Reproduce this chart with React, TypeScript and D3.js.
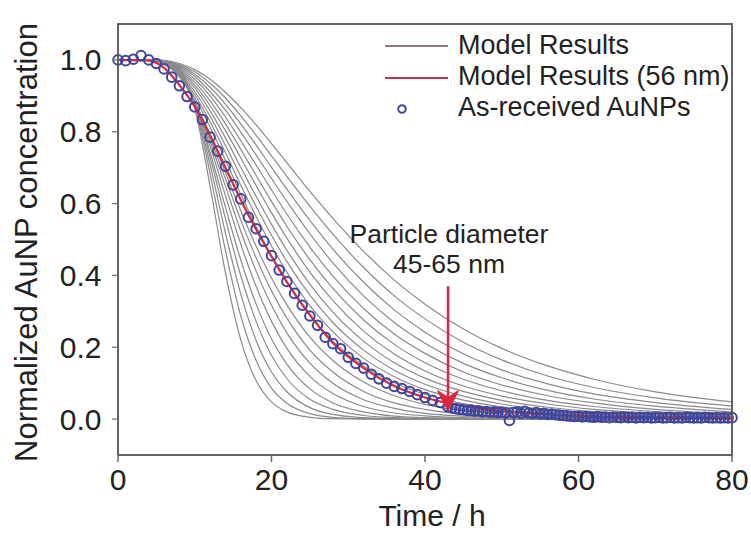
import React from 'react';
import * as d3 from 'd3';

// ---------- data ----------
const timeGrid = [0, 4, 6, 8, 10, 12, 14, 16, 18, 20, 22, 25, 28, 32, 36, 40, 45, 50, 56, 62, 70, 80];

// gray model curves, one per particle diameter (nm), values at timeGrid
const diameters = [65, 64, 63, 62, 61, 60, 59, 58, 57, 55, 54, 53, 52, 51, 50, 49, 48, 47, 46, 45];
const modelCurves = [
  [1, 1, 0.999, 0.977, 0.866, 0.648, 0.407, 0.220, 0.107, 0.048, 0.020, 0.005, 0.001, 0, 0, 0, 0, 0, 0, 0, 0, 0],
  [1, 1, 0.998, 0.974, 0.871, 0.683, 0.469, 0.287, 0.163, 0.086, 0.044, 0.015, 0.005, 0.001, 0, 0, 0, 0, 0, 0, 0, 0],
  [1, 1, 0.997, 0.970, 0.874, 0.708, 0.518, 0.348, 0.219, 0.131, 0.076, 0.032, 0.013, 0.004, 0.001, 0, 0, 0, 0, 0, 0, 0],
  [1, 1, 0.996, 0.966, 0.876, 0.729, 0.558, 0.399, 0.272, 0.177, 0.113, 0.055, 0.027, 0.010, 0.004, 0.001, 0, 0, 0, 0, 0, 0],
  [1, 1, 0.995, 0.962, 0.877, 0.743, 0.590, 0.443, 0.320, 0.223, 0.153, 0.084, 0.045, 0.020, 0.008, 0.004, 0.001, 0, 0, 0, 0, 0],
  [1, 1, 0.994, 0.960, 0.880, 0.760, 0.622, 0.487, 0.369, 0.272, 0.197, 0.119, 0.071, 0.035, 0.017, 0.009, 0.004, 0.002, 0, 0, 0, 0],
  [1, 1, 0.992, 0.957, 0.882, 0.773, 0.648, 0.523, 0.412, 0.317, 0.240, 0.156, 0.100, 0.054, 0.030, 0.016, 0.008, 0.004, 0.002, 0.001, 0, 0],
  [1, 1, 0.991, 0.955, 0.884, 0.783, 0.669, 0.554, 0.449, 0.357, 0.281, 0.192, 0.131, 0.077, 0.045, 0.027, 0.014, 0.008, 0.004, 0.002, 0.001, 0],
  [1, 1, 0.989, 0.953, 0.884, 0.791, 0.686, 0.580, 0.481, 0.393, 0.318, 0.228, 0.163, 0.103, 0.065, 0.041, 0.023, 0.014, 0.007, 0.004, 0.002, 0.001],
  [1, 1, 0.988, 0.954, 0.894, 0.813, 0.721, 0.626, 0.536, 0.453, 0.380, 0.288, 0.217, 0.148, 0.101, 0.069, 0.043, 0.027, 0.016, 0.009, 0.005, 0.002],
  [1, 1, 0.989, 0.959, 0.903, 0.828, 0.742, 0.651, 0.564, 0.482, 0.409, 0.316, 0.243, 0.169, 0.118, 0.082, 0.053, 0.034, 0.021, 0.013, 0.007, 0.003],
  [1, 1, 0.990, 0.963, 0.912, 0.843, 0.762, 0.676, 0.592, 0.512, 0.439, 0.345, 0.269, 0.192, 0.136, 0.097, 0.064, 0.042, 0.026, 0.016, 0.009, 0.004],
  [1, 1, 0.991, 0.967, 0.922, 0.858, 0.783, 0.701, 0.620, 0.542, 0.470, 0.376, 0.298, 0.217, 0.157, 0.114, 0.077, 0.052, 0.033, 0.021, 0.012, 0.006],
  [1, 1, 0.993, 0.971, 0.930, 0.873, 0.803, 0.727, 0.650, 0.574, 0.504, 0.409, 0.330, 0.245, 0.181, 0.134, 0.092, 0.064, 0.042, 0.027, 0.016, 0.008],
  [1, 1, 0.994, 0.975, 0.938, 0.886, 0.822, 0.751, 0.678, 0.606, 0.537, 0.444, 0.364, 0.276, 0.208, 0.157, 0.111, 0.079, 0.052, 0.035, 0.021, 0.011],
  [1, 1, 0.994, 0.978, 0.946, 0.900, 0.841, 0.775, 0.707, 0.638, 0.571, 0.479, 0.398, 0.308, 0.237, 0.183, 0.131, 0.095, 0.065, 0.045, 0.027, 0.015],
  [1, 1, 0.995, 0.981, 0.954, 0.912, 0.860, 0.799, 0.735, 0.670, 0.606, 0.516, 0.435, 0.343, 0.269, 0.211, 0.155, 0.115, 0.080, 0.056, 0.036, 0.020],
  [1, 1, 0.996, 0.984, 0.960, 0.924, 0.877, 0.822, 0.763, 0.701, 0.640, 0.553, 0.473, 0.381, 0.304, 0.242, 0.182, 0.137, 0.098, 0.070, 0.046, 0.027],
  [1, 1, 0.997, 0.987, 0.967, 0.935, 0.894, 0.844, 0.790, 0.733, 0.676, 0.593, 0.515, 0.422, 0.343, 0.279, 0.214, 0.165, 0.120, 0.088, 0.059, 0.036],
  [1, 1, 0.998, 0.990, 0.973, 0.946, 0.910, 0.867, 0.819, 0.767, 0.714, 0.634, 0.559, 0.467, 0.387, 0.320, 0.251, 0.197, 0.148, 0.111, 0.076, 0.048],
];

// best fit model (56 nm), values at timeGrid
const fitCurve = [1, 0.998, 0.978, 0.93, 0.87, 0.79, 0.70, 0.61, 0.528, 0.453, 0.382, 0.29, 0.212, 0.142, 0.092, 0.06, 0.036, 0.022, 0.013, 0.007, 0.004, 0.002];

// measured points (as-received AuNPs)
const dataTimes = [0, 1, 2, 3, 4, 5, 6, 7, 8, 9, 10, 11, 12, 13, 14, 15, 16, 17, 18, 19, 20,
  21, 22, 23, 24, 25, 26, 27, 28, 29, 30, 31, 32, 33, 34, 35, 36, 37, 38, 39, 40, 41, 42];
const dataValues = [1.0, 0.998, 1.002, 1.012, 1.0, 0.99, 0.975, 0.952, 0.928, 0.898, 0.869,
  0.834, 0.785, 0.746, 0.704, 0.652, 0.613, 0.562, 0.53, 0.495, 0.455,
  0.415, 0.383, 0.35, 0.317, 0.287, 0.261, 0.228, 0.21, 0.196, 0.172,
  0.155, 0.142, 0.125, 0.112, 0.1, 0.091, 0.085, 0.077, 0.068, 0.06, 0.052, 0.046];
// dense tail of measurements, every 0.5 h from 43 h to 80 h
const tailStart = 43;
const tailStep = 0.5;
const tailValues = [
  0.034, 0.031, 0.029, 0.027, 0.026, 0.024, 0.025, 0.022, 0.023, 0.020,
  0.021, 0.019, 0.020, 0.018, 0.019, 0.017, -0.004, 0.018, 0.020, 0.016,
  0.022, 0.017, 0.015, 0.018, 0.014, 0.016, 0.013, 0.014, 0.012, 0.011,
  0.010, 0.009, 0.008, 0.007, 0.008, 0.006, 0.007, 0.006, 0.005, 0.007,
  0.005, 0.006, 0.004, 0.006, 0.005, 0.004, 0.006, 0.004, 0.005, 0.003,
  0.005, 0.004, 0.005, 0.003, 0.004, 0.005, 0.003, 0.004, 0.005, 0.003,
  0.004, 0.003, 0.005, 0.004, 0.003, 0.004, 0.003, 0.005, 0.004, 0.003,
  0.004, 0.003, 0.004, 0.003, 0.004,
];

const xTicks = [0, 20, 40, 60, 80];
const yTicks = [0.0, 0.2, 0.4, 0.6, 0.8, 1.0];
const xDomain = [0, 80];
const yDomain = [-0.1, 1.1];

const legendLabels = ['Model Results', 'Model Results (56 nm)', 'As-received AuNPs'];
const annotationLines = ['Particle diameter', '45-65 nm'];
const arrowTime = 43;
const arrowFrom = 0.37;
const arrowTo = 0.025;

// ---------- styles ----------
const W = 751;
const H = 534;
const M = { left: 118, right: 19, top: 24, bottom: 79 };
const FONT = '"Liberation Sans", Arial, Helvetica, sans-serif';
const GRAY = '#8a8a8a';
const RED = '#e0263c';
const BLUE = '#40469a';
const FRAME = '#555555';

export default function App() {
  const x = d3.scaleLinear().domain(xDomain).range([M.left, W - M.right]);
  const y = d3.scaleLinear().domain(yDomain).range([H - M.bottom, M.top]);

  const line = d3
    .line<[number, number]>()
    .x((d) => x(d[0]))
    .y((d) => y(d[1]))
    .curve(d3.curveMonotoneX);

  const points: [number, number][] = [
    ...dataTimes.map((t, i) => [t, dataValues[i]] as [number, number]),
    ...tailValues.map((v, i) => [tailStart + i * tailStep, v] as [number, number]),
  ];

  const ax = x(arrowTime);
  const aTop = y(arrowFrom);
  const aTip = y(arrowTo);
  const fmt = d3.format('.1f');

  const legendX0 = 385;
  const legendX1 = 448;
  const legendTextX = 458;
  const legendRows = [44, 75, 106.5];

  return (
    <div style={{ position: 'absolute', left: 0, top: 0 }}>
      <svg width={W} height={H} viewBox={`0 0 ${W} ${H}`} style={{ display: 'block', background: '#fff' }}>
        {/* model curves */}
        <g fill="none" stroke={GRAY} strokeWidth={1.2}>
          {modelCurves.map((vals, i) => (
            <path key={diameters[i]} d={line(timeGrid.map((t, j) => [t, vals[j]] as [number, number])) || ''} />
          ))}
        </g>
        {/* best fit */}
        <path
          d={line(timeGrid.map((t, j) => [t, fitCurve[j]] as [number, number])) || ''}
          fill="none"
          stroke={RED}
          strokeWidth={2.2}
        />
        {/* data */}
        <g fill="none" stroke={BLUE} strokeWidth={2}>
          {points.map((p, i) => (
            <circle key={i} cx={x(p[0])} cy={y(p[1])} r={4.8} />
          ))}
        </g>

        {/* frame */}
        <rect
          x={M.left}
          y={M.top}
          width={W - M.left - M.right}
          height={H - M.top - M.bottom}
          fill="none"
          stroke={FRAME}
          strokeWidth={1.8}
        />
        {/* axes ticks */}
        <g fontFamily={FONT} fontSize={30} fill="#222">
          {yTicks.map((v) => (
            <g key={v}>
              <line x1={M.left - 6} x2={M.left} y1={y(v)} y2={y(v)} stroke="#777" strokeWidth={1.3} />
              <text x={M.left - 16.5} y={y(v) + 10.5} textAnchor="end">
                {fmt(v)}
              </text>
            </g>
          ))}
          {xTicks.map((v) => (
            <g key={v}>
              <line x1={x(v)} x2={x(v)} y1={H - M.bottom} y2={H - M.bottom + 7} stroke="#666" strokeWidth={1.5} />
              <text x={x(v)} y={490} textAnchor="middle">
                {v}
              </text>
            </g>
          ))}
        </g>
        {/* axis titles */}
        <text x={432} y={526} textAnchor="middle" fontFamily={FONT} fontSize={30} fill="#222">
          Time / h
        </text>
        <text
          transform={`translate(37, ${(M.top + H - M.bottom) / 2 + 3}) rotate(-90)`}
          textAnchor="middle"
          fontFamily={FONT}
          fontSize={31}
          fill="#222"
        >
          Normalized AuNP concentration
        </text>

        {/* legend */}
        <g fontFamily={FONT} fontSize={27} fill="#222">
          <line x1={legendX0} x2={legendX1} y1={legendRows[0] + 2} y2={legendRows[0] + 2} stroke="#8b7d7b" strokeWidth={2} />
          <text x={legendTextX} y={legendRows[0] + 9.5}>{legendLabels[0]}</text>
          <line x1={legendX0} x2={legendX1} y1={legendRows[1] + 3} y2={legendRows[1] + 3} stroke="#c8304a" strokeWidth={2} />
          <text x={legendTextX} y={legendRows[1] + 9.5}>{legendLabels[1]}</text>
          <circle cx={402} cy={legendRows[2] + 2.5} r={3.8} fill="none" stroke={BLUE} strokeWidth={2} />
          <text x={legendTextX} y={legendRows[2] + 9.5}>{legendLabels[2]}</text>
        </g>

        {/* annotation */}
        <g fontFamily={FONT} fontSize={26.5} fill="#222" textAnchor="middle">
          <text x={ax + 1} y={243}>{annotationLines[0]}</text>
          <text x={ax + 1} y={273}>{annotationLines[1]}</text>
        </g>
        <line x1={ax} x2={ax} y1={aTop} y2={aTip - 10} stroke={RED} strokeWidth={2.5} />
        <path
          d={`M${ax},${aTip} L${ax - 10},${aTip - 19} L${ax},${aTip - 12} L${ax + 10},${aTip - 19} Z`}
          fill={RED}
          stroke={RED}
          strokeWidth={1.5}
          strokeLinejoin="round"
        />
      </svg>
    </div>
  );
}
